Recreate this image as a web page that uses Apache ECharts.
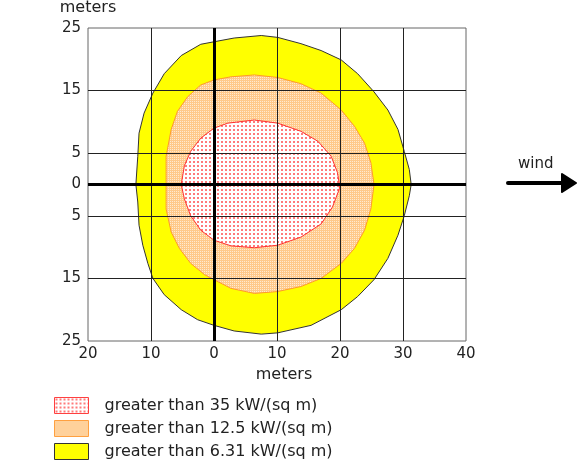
<!DOCTYPE html>
<html>
<head>
<meta charset="utf-8">
<script src="https://cdn.jsdelivr.net/npm/echarts@6/dist/echarts.min.js"></script>
<style>
  html, body { margin: 0; padding: 0; background: #fff; }
  #chart { width: 583px; height: 469px; }
</style>
</head>
<body>
<div id="chart"></div>
<script>
// threat zone outlines, [downwind m, crosswind m]
let zone35 = [[-5.2,0],[-4.7,3.0],[-3.7,5.3],[-2.1,7.4],[0,9.0],[2.2,9.8],[6.4,10.3],[10.1,9.8],
  [13.8,8.5],[16.5,6.9],[18.6,4.5],[19.6,1.9],[19.9,0],[19.9,-0.7],[18.8,-3.6],[17.0,-6.3],
  [13.8,-8.4],[10.1,-9.7],[6.4,-10.1],[2.7,-9.8],[0,-8.9],[-2.1,-7.3],[-3.7,-5.0],[-4.7,-2.3]];
let zone125 = [[-7.6,0],[-7.6,4.5],[-6.8,8.8],[-5.8,11.7],[-4.2,14.0],[-2.1,15.9],[0,16.7],
  [2.7,17.2],[6.4,17.5],[10.1,17.1],[13.8,16.1],[17.0,14.6],[20.2,11.9],[22.3,9.3],[23.9,6.6],
  [24.9,3.5],[25.4,0],[24.9,-3.9],[23.9,-7.3],[22.3,-10.2],[20.2,-12.6],[17.0,-15.0],[13.8,-16.3],
  [10.1,-17.1],[6.4,-17.4],[2.7,-16.6],[0,-15.2],[-1.5,-14.4],[-3.7,-12.6],[-5.5,-10.2],
  [-6.8,-7.6],[-7.6,-3.9]];
let zone631 = [[-12.4,0],[-12.1,4.5],[-11.9,8.2],[-11.1,11.4],[-9.7,14.6],[-7.9,17.7],[-5.2,20.6],
  [-2.1,22.4],[0,22.8],[3.2,23.4],[7.5,23.8],[10.1,23.5],[13.8,22.5],[17.0,21.4],[20.2,19.9],
  [22.8,17.7],[25.4,14.8],[27.6,11.9],[29.2,8.8],[30.2,5.3],[31.0,2.4],[31.3,0],[31.0,-1.8],
  [30.2,-5.0],[29.2,-8.1],[27.6,-11.8],[25.4,-15.2],[22.8,-17.9],[20.2,-20.0],[15.4,-22.5],
  [10.1,-23.7],[7.5,-23.9],[3.2,-23.4],[0,-22.5],[-2.6,-21.6],[-5.2,-20.0],[-7.9,-17.6],
  [-9.7,-15.0],[-10.5,-12.6],[-11.3,-9.7],[-11.9,-6.5],[-12.1,-2.8]];

let zoneNames = ['greater than 35 kW/(sq m)', 'greater than 12.5 kW/(sq m)', 'greater than 6.31 kW/(sq m)'];
let yTickLabels = [25, 15, 5, 0, -5, -15, -25];
let xGridLines = [-10, 10, 20, 30];

function makePattern(size, bg, dots, dotColor) {
  let c = document.createElement('canvas');
  c.width = size; c.height = size;
  let ctx = c.getContext('2d');
  ctx.fillStyle = bg;
  ctx.fillRect(0, 0, size, size);
  ctx.fillStyle = dotColor;
  dots.forEach(function (d) { ctx.fillRect(d[0], d[1], d[2], d[3]); });
  return { image: c, repeat: 'repeat' };
}

let redFill = makePattern(4, '#ffffff', [[1, 1, 2, 2]], '#ff7a7a');
let orangeFill = makePattern(2, '#ffead0', [[0, 0, 2, 1], [1, 1, 1, 1]], '#ffc98a');
let yellowFill = '#ffff00';

function zoneSeries(name, pts, fill, edge, z) {
  return {
    name: name,
    type: 'custom',
    z: z,
    silent: true,
    data: pts,
    renderItem: function (params, api) {
      if (params.dataIndex !== 0) return;
      return {
        type: 'polygon',
        shape: { points: pts.map(function (p) { return api.coord(p); }) },
        style: { fill: fill, stroke: edge, lineWidth: 1 }
      };
    }
  };
}

let gridLine = { color: '#222', width: 1, type: 'solid' };
let axisLine0 = { color: '#000', width: 3, type: 'solid' };
let lines = [];
yTickLabels.forEach(function (v) {
  if (v !== 0 && Math.abs(v) !== 25) lines.push({ yAxis: v, lineStyle: gridLine });
});
xGridLines.forEach(function (v) { lines.push({ xAxis: v, lineStyle: gridLine }); });
lines.push({ yAxis: 0, lineStyle: axisLine0 });
lines.push({ xAxis: 0, lineStyle: axisLine0 });

let font = 'DejaVu Sans';
let chart = echarts.init(document.getElementById('chart'));
chart.setOption({
  animation: false,
  backgroundColor: '#fff',
  textStyle: { fontFamily: font },
  grid: { left: 88, right: 117, top: 25, bottom: 128, show: true, borderColor: '#666', borderWidth: 1 },
  xAxis: {
    type: 'value', min: -20, max: 40, interval: 10,
    name: 'meters', nameLocation: 'middle', nameGap: 24,
    nameTextStyle: { fontFamily: font, fontSize: 16, color: '#222', padding: [0, 0, 0, 14] },
    axisLine: { show: false, onZero: false }, axisTick: { show: false }, splitLine: { show: false },
    axisLabel: { fontFamily: font, fontSize: 15, color: '#222', margin: 6,
      formatter: function (v) { return String(Math.abs(v)); } }
  },
  yAxis: {
    type: 'value', min: -25, max: 25, interval: 5,
    name: 'meters', nameLocation: 'end', nameGap: 12,
    nameTextStyle: { fontFamily: font, fontSize: 16, color: '#222', align: 'center' },
    axisLine: { show: false, onZero: false }, axisTick: { show: false }, splitLine: { show: false },
    axisLabel: { fontFamily: font, fontSize: 15, color: '#222', margin: 7,
      formatter: function (v) { return yTickLabels.indexOf(v) >= 0 ? String(Math.abs(v)) : ''; } }
  },
  legend: {
    orient: 'vertical', left: 54, top: 397, itemWidth: 34, itemHeight: 16, itemGap: 6,
    padding: 0, selectedMode: false, icon: 'rect',
    textStyle: { fontFamily: font, fontSize: 16, lineHeight: 16, color: '#222', padding: [0, 0, 0, 11] },
    data: [
      { name: zoneNames[0], itemStyle: { color: redFill, borderColor: '#ff4040', borderWidth: 1 } },
      { name: zoneNames[1], itemStyle: { color: orangeFill, borderColor: '#ffa040', borderWidth: 1 } },
      { name: zoneNames[2], itemStyle: { color: yellowFill, borderColor: '#333', borderWidth: 1 } }
    ]
  },
  series: [
    zoneSeries(zoneNames[2], zone631, yellowFill, '#333', 2),
    zoneSeries(zoneNames[1], zone125, orangeFill, '#ff9a2a', 3),
    zoneSeries(zoneNames[0], zone35, redFill, '#ff3030', 4),
    {
      type: 'line', data: [], z: 10, silent: true,
      markLine: { silent: true, symbol: 'none', label: { show: false }, animation: false, data: lines }
    }
  ],
  graphic: [
    { type: 'text', left: 518, top: 157, style: { text: 'wind', font: '15px "DejaVu Sans"', fill: '#222' } },
    { type: 'line', shape: { x1: 508, y1: 183, x2: 565, y2: 183 }, style: { stroke: '#000', lineWidth: 4, lineCap: 'round' } },
    { type: 'polygon', shape: { points: [[562, 174], [576, 183], [562, 192]] }, style: { fill: '#000', stroke: '#000', lineWidth: 2, lineJoin: 'round' } }
  ]
});
</script>
</body>
</html>
